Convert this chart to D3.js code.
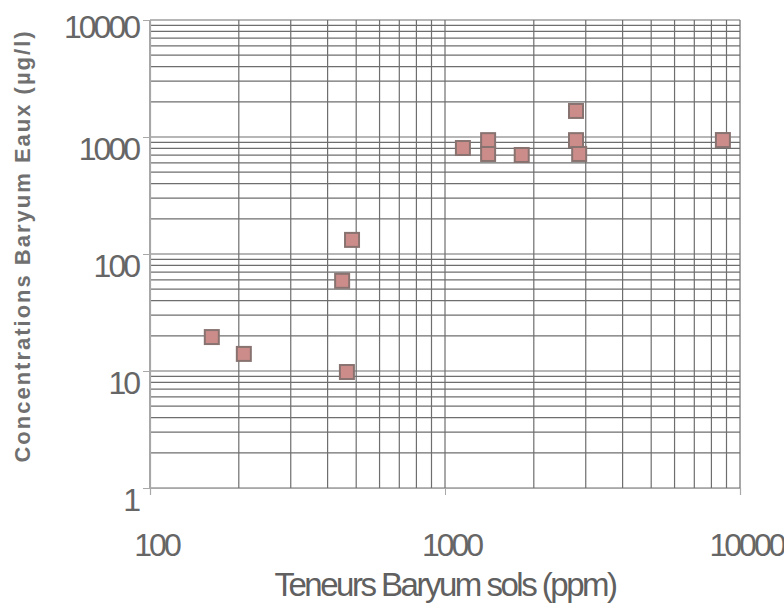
<!DOCTYPE html>
<html>
<head>
<meta charset="utf-8">
<script src="https://cdn.jsdelivr.net/npm/d3@7"></script>
<style>
  body { margin: 0; background: #fff; }
</style>
</head>
<body>
<div id="chart"></div>
<script>
// baryum sols vs eaux

let width = 784;
let height = 612;

// soil content (ppm) and water concentration (µg/l)
let solsPpm = [162, 208, 448, 484, 465, 1150, 1400, 1400, 1820, 2780, 2780, 2850, 8750];
let eauxUgL = [19.5, 14, 59, 132, 9.8, 805, 940, 716, 702, 1670, 940, 716, 942];

let xTicks = [100, 1000, 10000];
let yTicks = [1, 10, 100, 1000, 10000];

let margin = { top: 20, right: 44, bottom: 124, left: 150 };

let svg = d3.select("#chart").append("svg")
    .attr("width", width)
    .attr("height", height);

let x = d3.scaleLog()
    .domain([100, 10000])
    .range([margin.left, width - margin.right]);

let y = d3.scaleLog()
    .domain([1, 10000])
    .range([height - margin.bottom, margin.top]);

// all log gridlines (1..9 per decade)
let xGrid = x.ticks();
let yGrid = y.ticks();

let g = svg.append("g");

g.selectAll("line.vx")
    .data(xGrid)
    .join("line")
    .attr("class", "vx")
    .attr("x1", d => x(d)).attr("x2", d => x(d))
    .attr("y1", y(10000)).attr("y2", y(1))
    .attr("stroke", "#6e6e6e")
    .attr("stroke-width", 1.2);

g.selectAll("line.hy")
    .data(yGrid)
    .join("line")
    .attr("class", "hy")
    .attr("x1", x(100)).attr("x2", x(10000))
    .attr("y1", d => y(d)).attr("y2", d => y(d))
    .attr("stroke", "#6e6e6e")
    .attr("stroke-width", 1.2);

// axes (lighter)
let xAxis = d3.axisBottom(x)
    .tickValues(xTicks)
    .tickSize(7)
    .tickFormat(d3.format("d"));

let yAxis = d3.axisLeft(y)
    .tickValues(yTicks)
    .tickSize(7)
    .tickFormat(d3.format("d"));

let gx = svg.append("g")
    .attr("transform", `translate(0,${y(1)})`)
    .call(xAxis);

let gy = svg.append("g")
    .attr("transform", `translate(${x(100)},0)`)
    .call(yAxis);

[gx, gy].forEach(ax => {
    ax.select(".domain").attr("stroke", "#a8a8a8").attr("stroke-width", 1.2);
    ax.selectAll(".tick line").attr("stroke", "#a8a8a8");
    ax.selectAll(".tick text")
        .attr("fill", "#666")
        .attr("font-family", "'Liberation Sans', Arial, sans-serif")
        .attr("font-size", 32)
        .attr("letter-spacing", "-3px");
});

gx.selectAll(".tick text").attr("y", 68).attr("dy", 0).attr("dx", 6);
gy.selectAll(".tick text").attr("x", -12).attr("y", d => d === 10000 ? 6 : 11).attr("dy", "0.35em");

// squares
let size = 14;
g.selectAll("rect.pt")
    .data(solsPpm)
    .join("rect")
    .attr("class", "pt")
    .attr("x", d => x(d) - size / 2)
    .attr("y", (d, i) => y(eauxUgL[i]) - size / 2)
    .attr("width", size)
    .attr("height", size)
    .attr("fill", "#cc8c8a")
    .attr("stroke", "#887370")
    .attr("stroke-width", 2);

// titles
svg.append("text")
    .attr("x", 445)
    .attr("y", 596)
    .attr("text-anchor", "middle")
    .attr("fill", "#606060")
    .attr("font-family", "'Liberation Sans', Arial, sans-serif")
    .attr("font-size", 33)
    .attr("letter-spacing", "-2.5px")
    .text("Teneurs Baryum sols (ppm)");

svg.append("text")
    .attr("transform", "translate(30,246) rotate(-90)")
    .attr("text-anchor", "middle")
    .attr("fill", "#707070")
    .attr("font-family", "'Liberation Sans', Arial, sans-serif")
    .attr("font-weight", "bold")
    .attr("font-size", 22)
    .attr("letter-spacing", "2px")
    .text("Concentrations Baryum Eaux (µg/l)");
</script>
</body>
</html>
